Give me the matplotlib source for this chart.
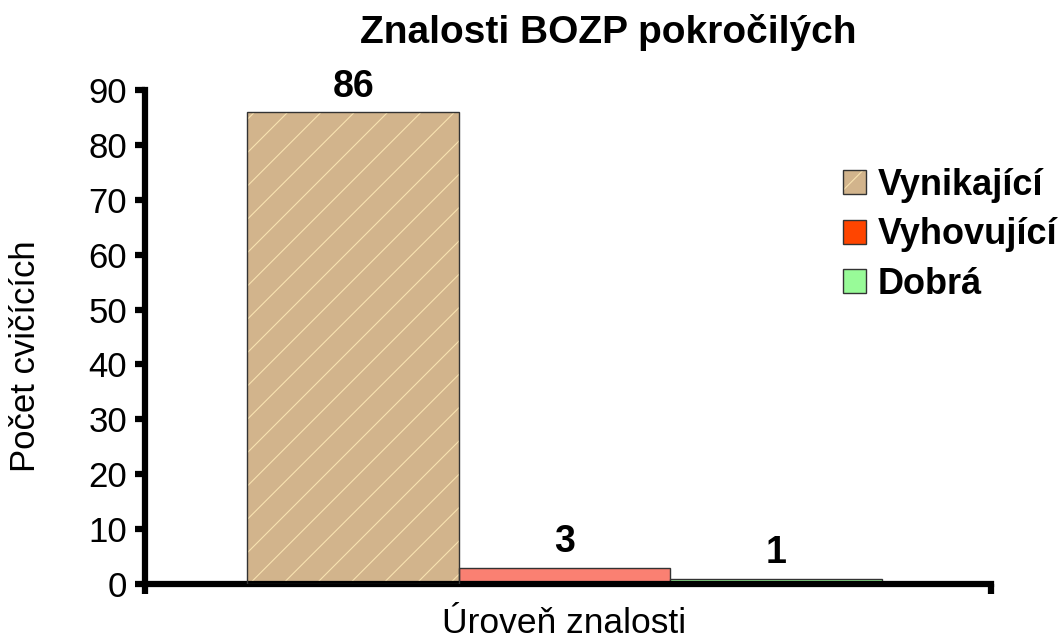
import matplotlib

matplotlib.use("Agg")
import matplotlib.pyplot as plt
from matplotlib.patches import Patch
from matplotlib.legend_handler import HandlerTuple

plt.rcParams["font.family"] = ["Liberation Sans", "DejaVu Sans"]
plt.rcParams["hatch.linewidth"] = 0.8

# data
series = ["Vynikající", "Vyhovující", "Dobrá"]
values = [86, 3, 1]
bar_colors = ["#D2B48C", "#FA8072", "#98FB98"]
legend_colors = ["#D2B48C", "#FF4500", "#98FB98"]
hatch_color = "#F8E2B0"
EDGE = "#333333"

fig = plt.figure(figsize=(10.61, 6.41), dpi=100)
ax = fig.add_axes([0.1367, 0.0889, 0.7973, 0.7707])

w = 0.25
offsets = [-0.254, -0.004, 0.246]
for i, (v, c) in enumerate(zip(values, bar_colors)):
    if i == 0:
        ax.bar(offsets[i], v, w, color=c, edgecolor=hatch_color, hatch="/",
               linewidth=0, zorder=2)
        ax.bar(offsets[i], v, w, fill=False, edgecolor=EDGE,
               linewidth=1.0, zorder=3)
    else:
        ax.bar(offsets[i], v, w, color=c, edgecolor=EDGE,
               linewidth=1.0, zorder=2)
    ax.annotate(str(v), (offsets[i], v), xytext=(0, 11),
                textcoords="offset points", ha="center", va="baseline",
                fontsize=27, fontweight="bold")

ax.set_xlim(-0.5, 0.5)
ax.set_ylim(0, 90)
ax.set_yticks(range(0, 91, 10))
ax.set_xticks([-0.5, 0.5])
ax.set_xticklabels([])
ax.tick_params(axis="y", direction="out", length=7, width=4.5, labelsize=25, pad=6)
ax.tick_params(axis="x", direction="out", length=7, width=4.5)
for s in ("top", "right"):
    ax.spines[s].set_visible(False)
for s in ("left", "bottom"):
    ax.spines[s].set_linewidth(4.5)

ax.set_ylabel("Počet cvičících", fontsize=25)
ax.yaxis.set_label_coords(-0.1217, 0.4615)
ax.set_xlabel("Úroveň znalosti", fontsize=25.5)
ax.xaxis.set_label_coords(0.495, -0.046)
fig.suptitle("Znalosti BOZP pokročilých", fontsize=28, fontweight="bold",
             x=0.573, y=0.978)

handles = [
    (Patch(facecolor=legend_colors[0], edgecolor=hatch_color, hatch="/", linewidth=0),
     Patch(fill=False, edgecolor=EDGE, linewidth=1.0)),
    Patch(facecolor=legend_colors[1], edgecolor=EDGE),
    Patch(facecolor=legend_colors[2], edgecolor=EDGE),
]
leg = fig.legend(handles, series, loc="upper left",
                 bbox_to_anchor=(0.7945, 0.738), borderaxespad=0, borderpad=0,
                 frameon=False, prop={"size": 26, "weight": "bold"},
                 handlelength=0.65, handleheight=0.65, handletextpad=0.3,
                 labelspacing=0.4,
                 handler_map={tuple: HandlerTuple(ndivide=1, pad=0)})

fig.savefig("out.png", dpi=100)
